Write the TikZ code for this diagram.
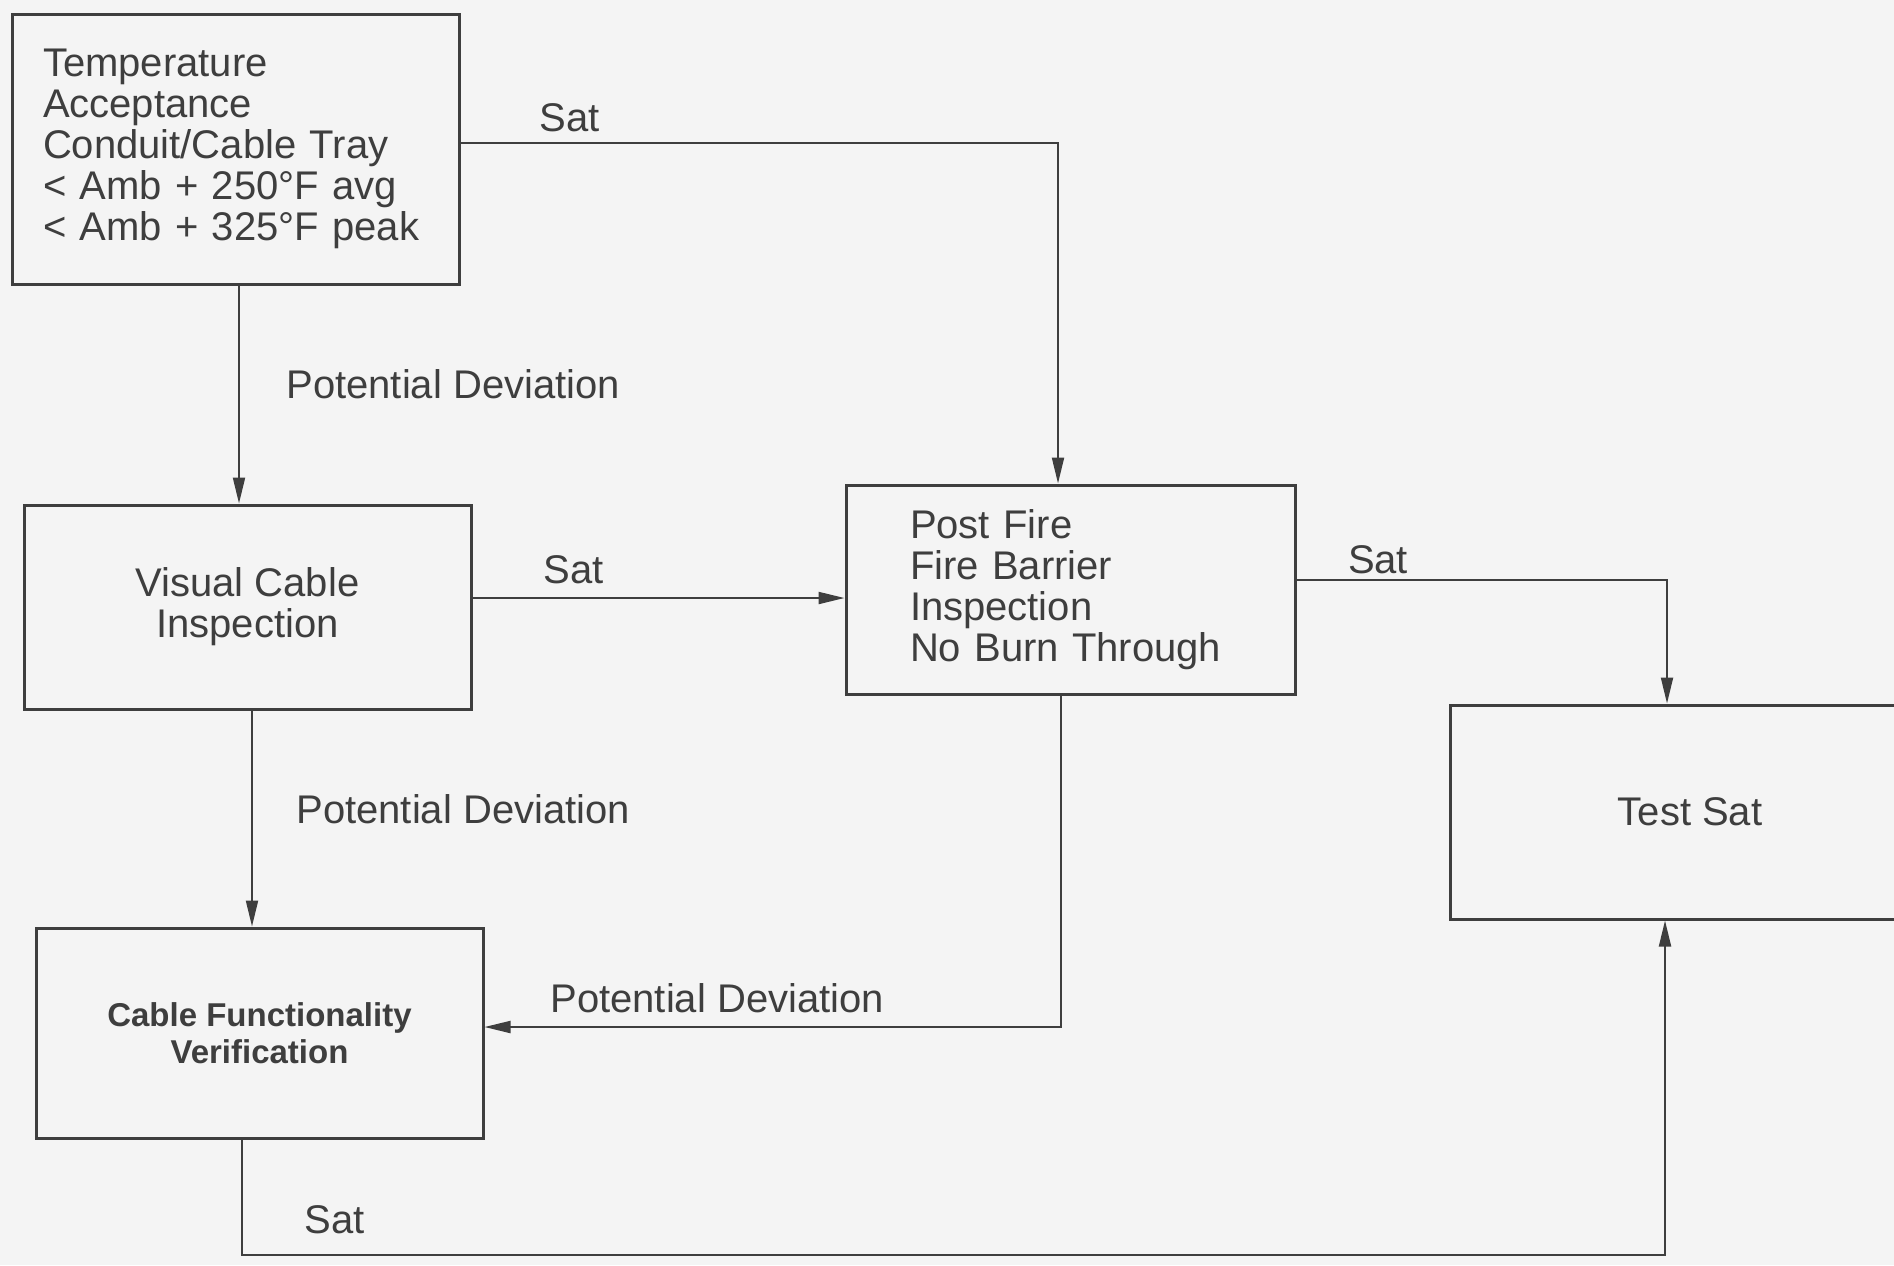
\documentclass[tikz,border=0pt]{standalone}
\usepackage{fontspec}
\setmainfont{Liberation Sans}
\usetikzlibrary{arrows.meta}
\definecolor{bg}{HTML}{F4F4F4}
\definecolor{ink}{HTML}{3E3E3E}
\begin{document}
\begin{tikzpicture}[x=0.5pt,y=-0.5pt,
  box/.style={draw=ink, line width=1.5pt, rectangle, inner sep=0pt, text=ink, font=\fontsize{20pt}{20.5pt}\selectfont},
  conn/.style={draw=ink, line width=1pt, -{Triangle[length=13pt,width=6pt]}},
  lbl/.style={text=ink, font=\fontsize{20pt}{24pt}\selectfont, inner sep=0pt}]
\clip (0,0) rectangle (1894,1265);
\fill[bg] (0,0) rectangle (1894,1265);

\node[box, minimum width=223.5pt, minimum height=135pt, text width=192.5pt, align=left] (b1) at (235.5,149)
  {Temperature\\Acceptance\\Conduit/Cable Tray\\< Amb + 250°F avg\\< Amb + 325°F peak};
\node[box, minimum width=223.5pt, minimum height=102pt, align=center] (b2) at (247.5,607)
  {Visual Cable\\Inspection};
\node[box, minimum width=223.5pt, minimum height=105pt, align=center,
  font=\bfseries\fontsize{16.5pt}{18.7pt}\selectfont] (b3) at (259.5,1033)
  {Cable Functionality\\Verification};
\node[box, minimum width=224.5pt, minimum height=104.5pt, text width=160.5pt, align=left] (b4) at (1070.5,589.5)
  {Post Fire\\Fire Barrier\\Inspection\\No Burn Through};
\node[box, minimum width=240pt, minimum height=107pt] (b5) at (1690,812) {Test Sat};

\coordinate (k1) at (1058,143);
\coordinate (k2) at (239,0);
\coordinate (k3) at (0,598);
\coordinate (k4) at (252,0);
\coordinate (k5) at (1667,580);
\coordinate (k6) at (1061,1027);
\coordinate (k7) at (242,1255);
\coordinate (k8) at (1665,1255);

\draw[conn] (b1.east |- k1) -- (k1) -- (k1 |- b4.north);
\draw[conn] (b1.south -| k2) -- (b2.north -| k2);
\draw[conn] (b2.east |- k3) -- (b4.west |- k3);
\draw[conn] (b2.south -| k4) -- (b3.north -| k4);
\draw[conn] (b4.east |- k5) -- (k5) -- (k5 |- b5.north);
\draw[conn] (b4.south -| k6) -- (k6) -- (b3.east |- k6);
\draw[conn] (b3.south -| k7) -- (k7) -- (k8) -- (k8 |- b5.south);

\node[lbl] (l1) at (570,118) {Sat};
\node[lbl, anchor=west] (l2) at (286,384) {Potential Deviation};
\node[lbl] (l3) at (574,570) {Sat};
\node[lbl, anchor=west] (l4) at (296,809) {Potential Deviation};
\node[lbl] (l5) at (1378,560) {Sat};
\node[lbl, anchor=west] (l6) at (550,998) {Potential Deviation};
\node[lbl] (l7) at (335,1220) {Sat};
\end{tikzpicture}
\end{document}
